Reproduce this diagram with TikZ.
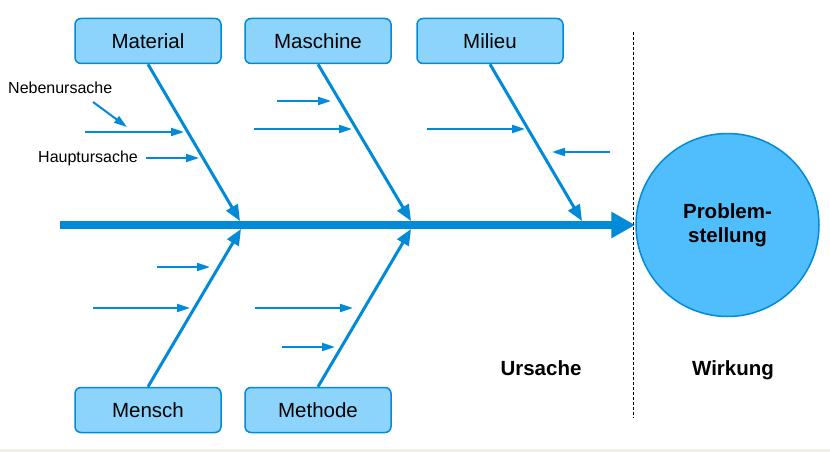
\documentclass[tikz,border=0pt]{standalone}
\usepackage{fontspec}
\setmainfont{Liberation Sans}
\usetikzlibrary{arrows.meta}

\definecolor{boneblue}{RGB}{0,138,216}
\definecolor{boxfill}{RGB}{141,212,252}
\definecolor{circfill}{RGB}{80,190,252}
\definecolor{stripgray}{RGB}{240,240,232}

\tikzset{
  category/.style={draw=boneblue, fill=boxfill, line width=1.5pt, rounded corners=6pt,
    minimum width=146pt, minimum height=45pt, inner sep=0pt,
    font=\fontsize{20.5}{24}\selectfont},
  bone/.style={draw=boneblue, line width=3pt, -{Triangle[length=16pt,width=13pt]}},
  twig/.style={draw=boneblue, line width=2pt, -{Triangle[length=13pt,width=8pt]}},
  spine/.style={draw=boneblue, line width=8pt, -{Triangle[length=24pt,width=25pt]}},
  smalltext/.style={inner sep=0pt, font=\fontsize{16}{18}\selectfont},
  sidetext/.style={inner sep=0pt, anchor=base, font=\bfseries\fontsize{20.5}{25}\selectfont}
}

\begin{document}
\begin{tikzpicture}[x=1pt, y=-1pt]
            \useasboundingbox (0,0) rectangle (830,452);
            \fill[stripgray] (0,449) rectangle (830,452);

            % categories
            \node[category] (mat) at (148, 41) {Material};
            \node[category] (mas) at (318, 41) {Maschine};
            \node[category] (mil) at (490, 41) {Milieu};
            \node[category] (men) at (148, 410) {Mensch};
            \node[category] (met) at (318, 410) {Methode};

            % effect
            \node[circle, draw=boneblue, fill=circfill, line width=1.5pt, minimum size=183pt,
                  inner sep=0pt, align=center, font=\bfseries\fontsize{20.5}{25}\selectfont]
                  (prob) at (727.5, 225) {Problem-\\[-1pt]stellung};

            % spine
            \coordinate (S) at (60, 225);
            \draw[spine] (S) -- (prob.west);

            % bones
            \coordinate (Tmat) at (240, 221);
            \coordinate (Tmas) at (411, 221);
            \coordinate (Tmil) at (582, 221);
            \coordinate (Tmen) at (241, 229);
            \coordinate (Tmet) at (411, 229);
            \draw[bone] (mat.south) -- (Tmat);
            \draw[bone] (mas.south) -- (Tmas);
            \draw[bone] (mil.south) -- (Tmil);
            \draw[bone] (men.north) -- (Tmen);
            \draw[bone] (met.north) -- (Tmet);

            % labels at Material
            \node[smalltext, anchor=west] (neben) at (8, 88) {Nebenursache};
            \node[smalltext, anchor=west] (haupt) at (38, 158) {Hauptursache};
            \draw[twig] (93, 102) -- (127, 127);
            \draw[twig] (85, 132) -- (184, 132);
            \draw[twig] (146, 158) -- (199, 158);

            % twigs
            \draw[twig] (277, 101) -- (331, 101);
            \draw[twig] (254, 129) -- (352, 129);
            \draw[twig] (427, 129) -- (525, 129);
            \draw[twig] (610, 152) -- (552, 152);
            \draw[twig] (157, 267) -- (210, 267);
            \draw[twig] (93, 308) -- (190, 308);
            \draw[twig] (255, 308) -- (353, 308);
            \draw[twig] (282, 347) -- (335, 347);

            % cause / effect
            \draw[line width=1pt, dash pattern=on 3pt off 2pt] (633, 32) -- (633, 418);
            \node[sidetext] (ursache) at (541, 375) {Ursache};
            \node[sidetext] (wirkung) at (733, 375) {Wirkung};
        \end{tikzpicture}
\end{document}
